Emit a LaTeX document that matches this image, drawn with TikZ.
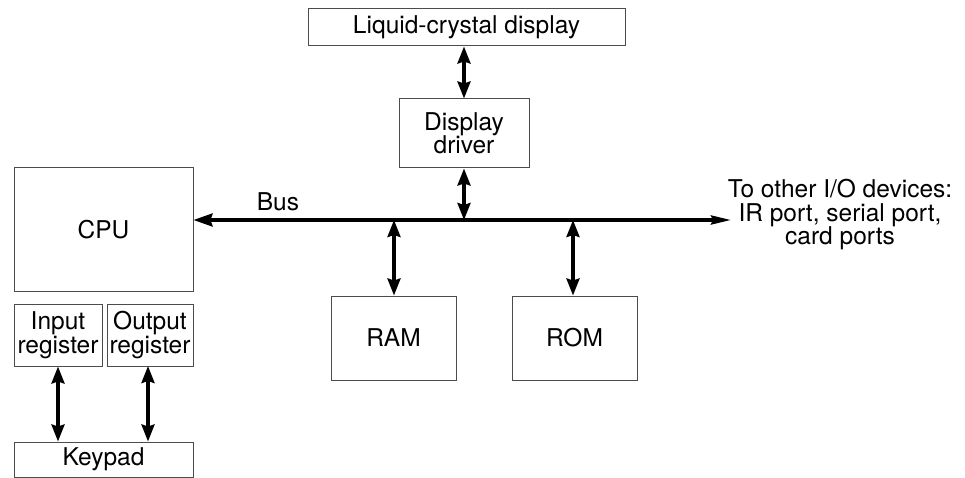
\documentclass[tikz,border=0pt]{standalone}
\usepackage{fontspec}
\setmainfont{TeX Gyre Heros}
\usetikzlibrary{arrows.meta}
\begin{document}
\begin{tikzpicture}[x=1pt,y=-1pt,
  font=\fontsize{24.5}{23.5}\selectfont,
  box/.style={draw=black!70,line width=1pt,inner sep=0pt,align=center},
  link/.style={line width=3.2pt,{Stealth[length=17pt,width=13pt,inset=2pt]}-{Stealth[length=17pt,width=13pt,inset=2pt]}},
  busline/.style={line width=3.2pt,{Stealth[length=19pt,width=13pt,inset=2pt]}-{Stealth[length=20pt,width=9pt,inset=2pt]}}]
\useasboundingbox (0,0) rectangle (965,478);
\node[box,minimum width=317pt,minimum height=37pt] (lcd) at (466.5,27.5) {Liquid-crystal display};
\node[box,minimum width=130pt,minimum height=69pt] (drv) at (464,133.5) {Display\\driver};
\node[box,minimum width=179pt,minimum height=123pt] (cpu) at (103.5,229.5) {CPU};
\node[box,minimum width=88pt,minimum height=62pt] (inreg) at (58,335) {Input\\register};
\node[box,minimum width=86pt,minimum height=62pt] (outreg) at (150,335) {Output\\register};
\node[box,minimum width=179pt,minimum height=35pt] (keypad) at (103.5,459.5) {Keypad};
\node[box,minimum width=125pt,minimum height=84pt] (ram) at (393.5,338) {RAM};
\node[box,minimum width=125pt,minimum height=84pt] (rom) at (574.5,338) {ROM};
\node (buslabel) at (278,202) {Bus};
\node[align=center,inner sep=0pt] (io) at (840,215) {To other I/O devices:\\IR port, serial port,\\card ports};
\coordinate (busend) at (731,220);
\coordinate (busdrv) at (464,220);
\coordinate (busram) at (394,220);
\coordinate (busrom) at (573,220);
\draw[busline] (cpu.east |- busend) -- (busend);
\draw[link] (lcd.south -| drv.north) -- (drv.north);
\draw[link] (drv.south) -- (busdrv);
\draw[link] (busram) -- (busram |- ram.north);
\draw[link] (busrom) -- (busrom |- rom.north);
\draw[link] (inreg.south) -- (inreg.south |- keypad.north);
\coordinate (outx) at (148,366);
\draw[link] (outx) -- (outx |- keypad.north);
\end{tikzpicture}
\end{document}
